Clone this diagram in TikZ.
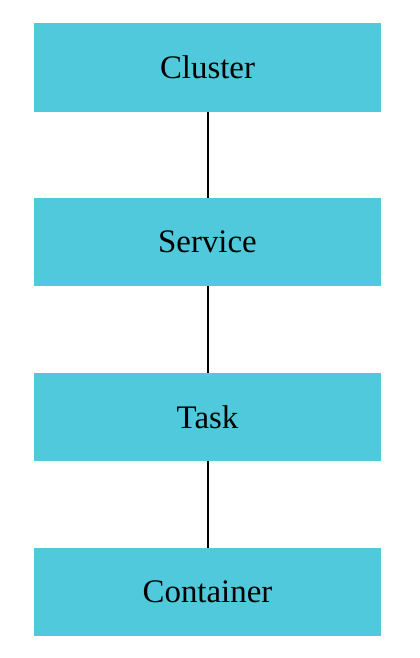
\documentclass[tikz,border=0pt]{standalone}
\usepackage{fontspec}
\setmainfont{Liberation Serif}
\usetikzlibrary{positioning}
\definecolor{boxcyan}{HTML}{4FC9DB}

\begin{document}
\begin{tikzpicture}[x=1bp,y=-1bp,
					level/.style={fill=boxcyan, minimum width=347bp, minimum height=88bp, inner sep=0pt, font=\fontsize{33}{40}\selectfont},
					link/.style={draw, line width=2bp}]
    \useasboundingbox (0,0) rectangle (419,658);
    % Place nodes
    \node [level] (cluster) at (207.5,67.5){Cluster};
    \node [level] (service) at (207.5,242){Service};
    \node [level] (task) at (207.5,417){Task};
    \node [level] (container) at (207.5,592){Container};
    % Draw edges
    \draw[link] (cluster) -- (service);
    \draw[link] (service) -- (task);
    \draw[link] (task) -- (container);
\end{tikzpicture}
\end{document}
